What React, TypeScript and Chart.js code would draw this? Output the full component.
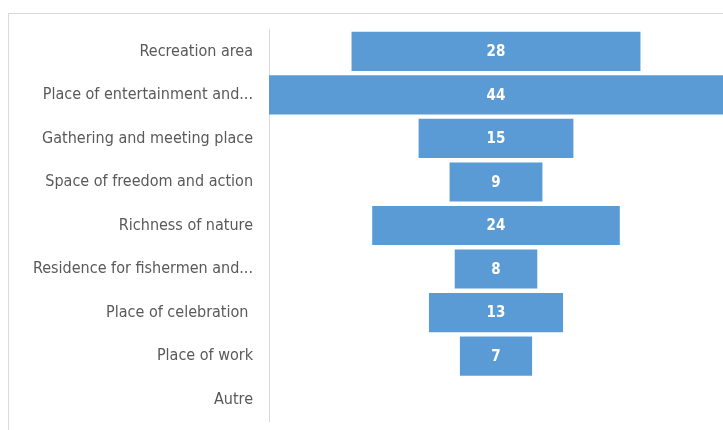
import React, { useEffect, useRef } from "react";
import { Chart, registerables } from "chart.js";

Chart.register(...registerables);

const categories = [
  "Recreation area",
  "Place of entertainment and...",
  "Gathering and meeting place",
  "Space of freedom and action",
  "Richness of nature",
  "Residence for fishermen and...",
  "Place of celebration ",
  "Place of work",
  "Autre",
];
const values = [28, 44, 15, 9, 24, 8, 13, 7, 0];

const FONT = "'Liberation Sans Narrow', 'DejaVu Sans Condensed', 'Open Sans', sans-serif";

const labelPlugin = {
  id: "centerLabels",
  afterDatasetsDraw(chart: any) {
    const ctx = chart.ctx;
    const meta = chart.getDatasetMeta(0);
    ctx.save();
    ctx.fillStyle = "#ffffff";
    ctx.font = `bold 15px ${FONT}`;
    ctx.textAlign = "center";
    ctx.textBaseline = "middle";
    meta.data.forEach((el: any, i: number) => {
      if (!values[i]) return;
      const cx = chart.scales.x.getPixelForValue(0);
      ctx.fillText(String(values[i]), cx, el.y + 1);
    });
    ctx.restore();
  },
};

export default function App() {
  const ref = useRef<HTMLCanvasElement>(null);
  useEffect(() => {
    if (!ref.current) return;
    const chart = new Chart(ref.current, {
      type: "bar",
      data: {
        labels: categories,
        datasets: [
          {
            data: values.map((v) => [-v / 2, v / 2]) as any,
            backgroundColor: "#5b9bd5",
            borderWidth: 0,
            categoryPercentage: 1,
            barPercentage: 0.9,
          },
        ],
      },
      options: {
        indexAxis: "y",
        animation: false,
        responsive: false,
        maintainAspectRatio: false,
        layout: { padding: { top: 6, bottom: 10, left: 0, right: 0 } },
        plugins: { legend: { display: false }, tooltip: { enabled: false } },
        scales: {
          x: { display: false, min: -22, max: 22 },
          y: {
            afterFit: (s: any) => {
              s.width = 260;
            },
            grid: { display: false, drawTicks: false },
            border: { display: true, color: "#d9d9d9", width: 1 },
            ticks: {
              color: "#595959",
              padding: 16,
              font: { family: FONT, size: 16 },
              autoSkip: false,
            },
          },
        },
      },
      plugins: [labelPlugin],
    });
    return () => chart.destroy();
  }, []);
  return (
    <div
      style={{
        position: "absolute",
        left: 8,
        top: 13,
        width: 715,
        height: 417,
        overflow: "hidden",
        borderTop: "1px solid #d9d9d9",
        borderLeft: "1px solid #d9d9d9",
        boxSizing: "border-box",
        background: "#fff",
      }}
    >
      <canvas
        ref={ref}
        width={714}
        height={443}
        style={{ display: "block", marginTop: -10 }}
      />
    </div>
  );
}
